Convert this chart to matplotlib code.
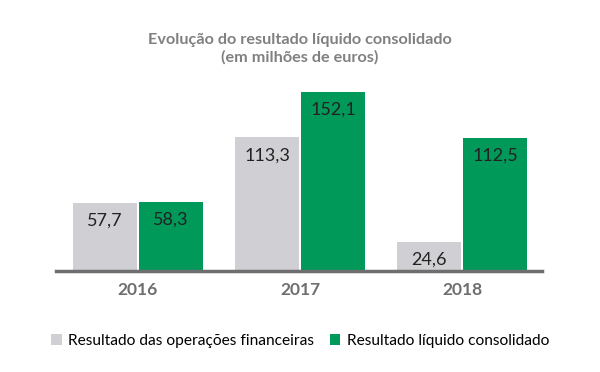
import matplotlib
matplotlib.use('Agg')
from matplotlib import pyplot as plt
import numpy as np

years = ['2016', '2017', '2018']
operacoes = [57.7, 113.3, 24.6]
liquido = [58.3, 152.1, 112.5]
series_names = ['Resultado das operações financeiras', 'Resultado líquido consolidado']
title = 'Evolução do resultado líquido consolidado\n(em milhões de euros)'

grey = '#d0d0d4'
green = '#00995a'

plt.rcParams['font.family'] = ['Lato', 'DejaVu Sans']

fig = plt.figure(figsize=(6, 3.72), dpi=100)
W, H = 600, 372
# axes box in pixels: left 56, right 542, baseline 271, top 60
ax = fig.add_axes([56 / W, (H - 271) / H, (542 - 56) / W, (271 - 60) / H])

x = np.arange(len(years))
bw = 0.395
ax.bar(x - bw / 2 - 0.006, operacoes, width=bw, color=grey, label=series_names[0])
ax.bar(x + bw / 2 + 0.006, liquido, width=bw, color=green, label=series_names[1])

for i in range(len(years)):
    ax.text(x[i] - bw / 2 - 0.006, operacoes[i] - 15, f'{operacoes[i]:.1f}'.replace('.', ','),
            ha='center', va='center', fontsize=13, color='#222222')
    ax.text(x[i] + bw / 2 + 0.006, liquido[i] - 15, f'{liquido[i]:.1f}'.replace('.', ','),
            ha='center', va='center', fontsize=13, color='#222222')

ax.set_xlim(-0.506, 2.494)
ax.set_ylim(0, 179)
for s in ['top', 'right', 'left']:
    ax.spines[s].set_visible(False)
ax.spines['bottom'].set_color('#6e6e6e')
ax.spines['bottom'].set_linewidth(2.5)
ax.set_yticks([])
ax.set_xticks(x)
ax.set_xticklabels(years, fontsize=12.5, fontweight='bold', color='#6e6e6e')
ax.tick_params(axis='x', length=0, pad=8)

fig.text(0.5, 1 - 49 / H, title, ha='center', va='center', fontsize=11.7,
         fontweight='bold', color='#808080', linespacing=1.3)

fig.legend(loc='center', bbox_to_anchor=(0.5, 1 - 341 / H), ncol=2, frameon=False,
           fontsize=11.2, handlelength=0.7, handleheight=0.7, handletextpad=0.4,
           columnspacing=1.0)

fig.savefig('out.png', dpi=100, facecolor='white')
